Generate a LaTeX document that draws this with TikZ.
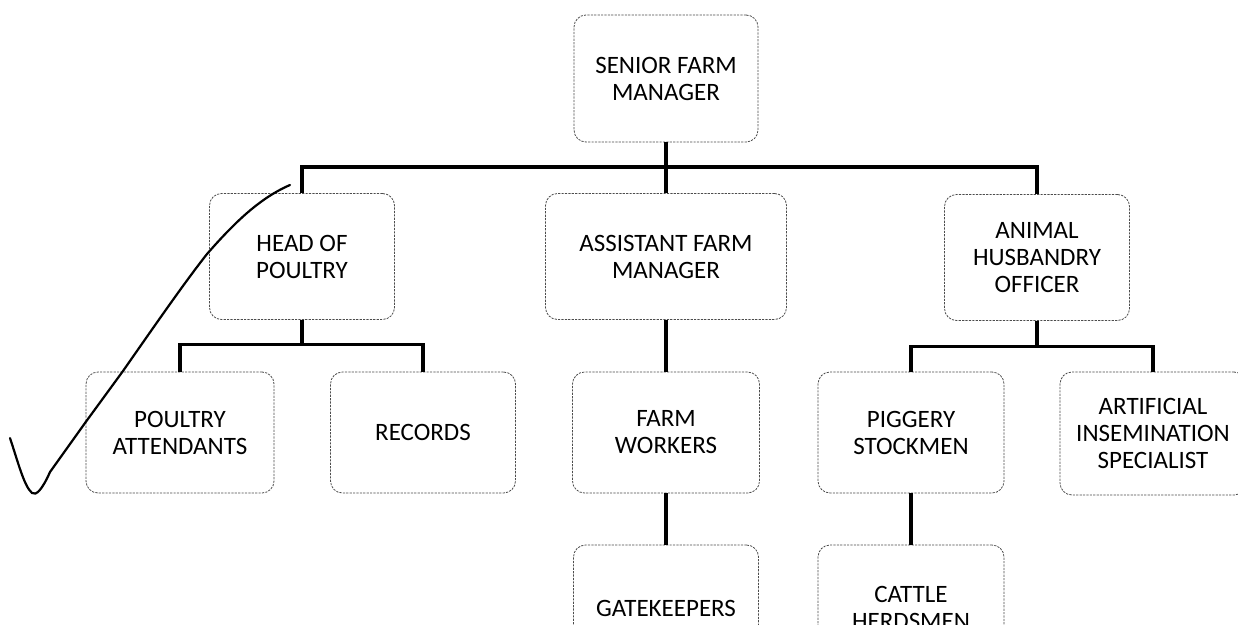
\documentclass[tikz,border=0pt]{standalone}
\usepackage{fontspec}
\setmainfont{Carlito}
\begin{document}
\begin{tikzpicture}[x=1pt,y=-1pt,
  box/.style={draw=black!70, line width=0.8pt, dash pattern=on 2.2pt off 1.2pt,
    rounded corners=12pt, rectangle, inner sep=0pt, align=center,
    font=\fontsize{25}{27}\selectfont, text=black},
  conn/.style={draw=black, line width=3.2pt},
  tick/.style={draw=black, line width=2.2pt, line cap=round, line join=round}]
\fill[white] (0,0) rectangle (1238,624);
\useasboundingbox (0,0) rectangle (1238,624);
\clip (0,0) rectangle (1238,624);
% boxes
\node[box, minimum width=184pt, minimum height=127pt] (sfm) at (666,78.5) {SENIOR FARM\\MANAGER};
\node[box, minimum width=185pt, minimum height=126pt] (hop) at (302,256.5) {HEAD OF\\POULTRY};
\node[box, minimum width=241pt, minimum height=126pt] (afm) at (666,256.5) {ASSISTANT FARM\\MANAGER};
\node[box, minimum width=185pt, minimum height=126pt] (aho) at (1037,257.5) {ANIMAL\\HUSBANDRY\\OFFICER};
\node[box, minimum width=188pt, minimum height=121pt] (pa) at (180,432.5) {POULTRY\\ATTENDANTS};
\node[box, minimum width=185pt, minimum height=121pt] (rec) at (423,432.5) {RECORDS};
\node[box, minimum width=187pt, minimum height=121pt] (fw) at (666,432.5) {FARM\\WORKERS};
\node[box, minimum width=186pt, minimum height=121pt] (ps) at (911,432.5) {PIGGERY\\STOCKMEN};
\node[box, minimum width=186pt, minimum height=123pt] (ais) at (1153,433.5) {ARTIFICIAL\\INSEMINATION\\SPECIALIST};
\node[box, minimum width=185pt, minimum height=126pt] (gk) at (666,608) {GATEKEEPERS};
\node[box, minimum width=186pt, minimum height=126pt] (ch) at (911,608) {CATTLE\\HERDSMEN};
% bus coordinates
\coordinate (bus1) at (666,167);
\coordinate (bus2) at (302,344.5);
\coordinate (bus3) at (1037,346.5);
% connectors
\draw[conn] (sfm.south) -- (bus1);
\draw[conn] (hop.north) |- (bus1) -| (aho.north);
\draw[conn] (bus1) -- (afm.north);
\draw[conn] (hop.south) -- (bus2);
\draw[conn] (pa.north) |- (bus2) -| (rec.north);
\draw[conn] (afm.south) -- (fw.north);
\draw[conn] (fw.south) -- (gk.north);
\draw[conn] (aho.south) -- (bus3);
\draw[conn] (ps.north) |- (bus3) -| (ais.north);
\draw[conn] (ps.south) -- (ch.north);
% hand-drawn check mark
\coordinate (t0) at (10,438);
\coordinate (t1) at (32,493);
\coordinate (t2) at (290,185);
\draw[tick] (t0) .. controls (18,462) and (24,486) .. (t1)
  .. controls (36,496) and (42,490) .. (50,472)
  -- (85,423) -- (123,371) .. controls (160,318) and (185,282) .. (207,254)
  .. controls (235,222) and (260,198) .. (t2);
\end{tikzpicture}
\end{document}
